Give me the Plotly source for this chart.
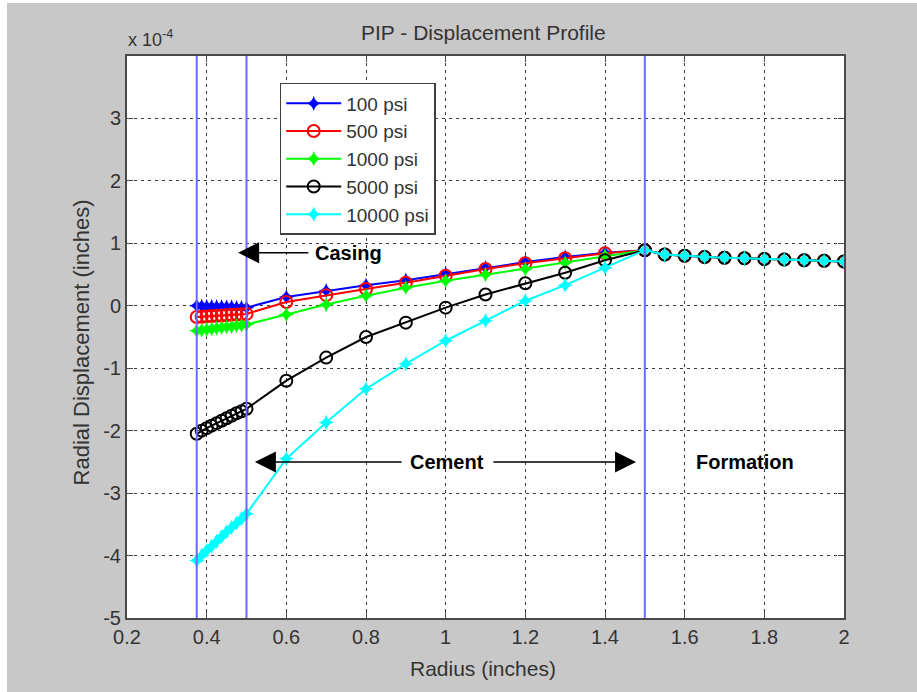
import plotly.graph_objects as go

# Radial positions (inches): casing 0.375-0.5, cement 0.5-1.5, formation 1.5-2.0
radius = [0.375, 0.3875, 0.4, 0.4125, 0.425, 0.4375, 0.45, 0.4625, 0.475, 0.4875, 0.5,
          0.6, 0.7, 0.8, 0.9, 1.0, 1.1, 1.2, 1.3, 1.4, 1.5,
          1.55, 1.6, 1.65, 1.7, 1.75, 1.8, 1.85, 1.9, 1.95, 2.0]

# Radial displacement, in units of 1e-4 inches
disp_100 = [0.0, -0.005, -0.01, -0.01, -0.015, -0.015, -0.02, -0.02, -0.025, -0.025, -0.03,
            0.14, 0.24, 0.33, 0.41, 0.51, 0.61, 0.70, 0.78, 0.85, 0.89,
            0.82, 0.80, 0.78, 0.77, 0.76, 0.75, 0.74, 0.73, 0.72, 0.71]
disp_500 = [-0.18, -0.175, -0.17, -0.165, -0.16, -0.155, -0.15, -0.145, -0.14, -0.135, -0.13,
            0.06, 0.17, 0.27, 0.37, 0.48, 0.59, 0.68, 0.76, 0.84, 0.89,
            0.82, 0.80, 0.78, 0.77, 0.76, 0.75, 0.74, 0.73, 0.72, 0.71]
disp_1000 = [-0.40, -0.39, -0.38, -0.37, -0.36, -0.35, -0.34, -0.33, -0.32, -0.31, -0.30,
             -0.14, 0.02, 0.16, 0.29, 0.40, 0.50, 0.59, 0.69, 0.80, 0.89,
             0.82, 0.80, 0.78, 0.77, 0.76, 0.75, 0.74, 0.73, 0.72, 0.71]
disp_5000 = [-2.05, -2.00, -1.96, -1.92, -1.88, -1.84, -1.80, -1.76, -1.72, -1.69, -1.65,
             -1.20, -0.83, -0.50, -0.27, -0.03, 0.18, 0.36, 0.53, 0.73, 0.89,
             0.82, 0.80, 0.78, 0.77, 0.76, 0.75, 0.74, 0.73, 0.72, 0.71]
disp_10000 = [-4.08, -4.00, -3.92, -3.85, -3.77, -3.70, -3.62, -3.55, -3.48, -3.41, -3.33,
              -2.45, -1.87, -1.33, -0.93, -0.56, -0.24, 0.08, 0.33, 0.61, 0.89,
              0.82, 0.80, 0.78, 0.77, 0.76, 0.75, 0.74, 0.73, 0.72, 0.71]

series_names = ["100 psi", "500 psi", "1000 psi", "5000 psi", "10000 psi"]
series_values = [disp_100, disp_500, disp_1000, disp_5000, disp_10000]
series_colors = ["#0000ff", "#ff0000", "#00ff00", "#000000", "#00ffff"]
series_symbols = ["star-diamond", "circle-open", "star-diamond", "circle-open", "star-diamond"]

# Material interfaces (inches)
boundaries = [0.375, 0.5, 1.5]

x_tick_vals = [0.2, 0.4, 0.6, 0.8, 1.0, 1.2, 1.4, 1.6, 1.8, 2.0]
x_tick_text = ["0.2", "0.4", "0.6", "0.8", "1", "1.2", "1.4", "1.6", "1.8", "2"]
y_tick_vals = [-5, -4, -3, -2, -1, 0, 1, 2, 3]
y_tick_text = ["-5", "-4", "-3", "-2", "-1", "0", "1", "2", "3"]

FONT = "Liberation Sans, Arial, sans-serif"
TXT = "#333333"

fig = go.Figure()
for name, vals, col, sym in zip(series_names, series_values, series_colors, series_symbols):
    open_marker = sym.endswith("open")
    fig.add_trace(go.Scatter(
        x=radius, y=vals, name=name, mode="lines+markers",
        line=dict(color=col, width=2),
        marker=dict(symbol=sym, size=12 if open_marker else 11, color=col,
                    line=dict(color=col, width=2 if open_marker else 0)),
    ))

for b in boundaries:
    fig.add_shape(type="line", xref="x", yref="paper", x0=b, x1=b, y0=0, y1=1,
                  line=dict(color="#6a6aff", width=2), layer="above")

# Region labels and arrows
arrow_kw = dict(showarrow=True, arrowhead=2, arrowsize=2.8, arrowwidth=1.5,
                arrowcolor="black", axref="x", ayref="y", text="")
fig.add_annotation(x=0.479, y=0.85, ax=0.659, ay=0.85, **arrow_kw)
fig.add_annotation(x=0.521, y=-2.5, ax=0.893, ay=-2.5, **arrow_kw)
fig.add_annotation(x=1.478, y=-2.5, ax=1.116, ay=-2.5, **arrow_kw)

label_font = dict(family=FONT, size=20, color="black")
fig.add_annotation(x=0.755, y=0.85, text="<b>Casing</b>", showarrow=False, font=label_font)
fig.add_annotation(x=1.003, y=-2.5, text="<b>Cement</b>", showarrow=False, font=label_font)
fig.add_annotation(x=1.752, y=-2.5, text="<b>Formation</b>", showarrow=False, font=label_font)

# Title, exponent and axis titles
fig.add_annotation(xref="paper", yref="paper", x=0.497, y=1.0427, xanchor="center", yanchor="middle",
                   text="PIP - Displacement Profile",
                   showarrow=False, font=dict(family=FONT, size=21, color=TXT))
fig.add_annotation(xref="paper", yref="paper", x=-0.002, y=1.032, xanchor="left", yanchor="middle",
                   text="x 10<sup>-4</sup>", showarrow=False, font=dict(family=FONT, size=18, color=TXT))
fig.add_annotation(xref="paper", yref="paper", x=0.497, y=-0.089, xanchor="center", yanchor="middle",
                   text="Radius (inches)",
                   showarrow=False, font=dict(family=FONT, size=21, color=TXT))
fig.add_annotation(xref="paper", yref="paper", x=-0.063, y=0.49, xanchor="center", yanchor="middle",
                   textangle=-90, text="Radial Displacement (inches)", showarrow=False,
                   font=dict(family=FONT, size=22, color=TXT))

# Thin white frame along the top and left edges
fig.add_shape(type="rect", xref="paper", yref="paper", x0=-0.2, x1=-0.1674, y0=-0.2, y1=1.2,
              fillcolor="white", line=dict(width=0), layer="below")
fig.add_shape(type="rect", xref="paper", yref="paper", x0=-0.2, x1=1.3, y0=1.0943, y1=1.2,
              fillcolor="white", line=dict(width=0), layer="below")

axis_common = dict(showline=True, mirror="ticks", linecolor="#4a4a4a", linewidth=2,
                   ticks="inside", ticklen=6, tickcolor="#4a4a4a", tickwidth=1,
                   showgrid=True, gridcolor="#3a3a3a", gridwidth=1, griddash="3px,4px",
                   zeroline=False, tickfont=dict(family=FONT, size=20, color=TXT))

fig.update_xaxes(range=[0.2, 2.0], tickvals=x_tick_vals, ticktext=x_tick_text, **axis_common)
fig.update_yaxes(range=[-5, 4.0], tickvals=y_tick_vals, ticktext=y_tick_text, **axis_common)

fig.update_layout(
    width=917, height=692,
    margin=dict(l=127, r=73, t=56, b=74),
    paper_bgcolor="#c8c8c8", plot_bgcolor="white",
    showlegend=True,
    legend=dict(x=0.213, y=0.952, xanchor="left", yanchor="top",
                bgcolor="white", bordercolor="#404040", borderwidth=1.5,
                font=dict(family=FONT, size=19, color=TXT),
                itemwidth=55, tracegroupgap=0),
)

fig.write_html("out.html")
